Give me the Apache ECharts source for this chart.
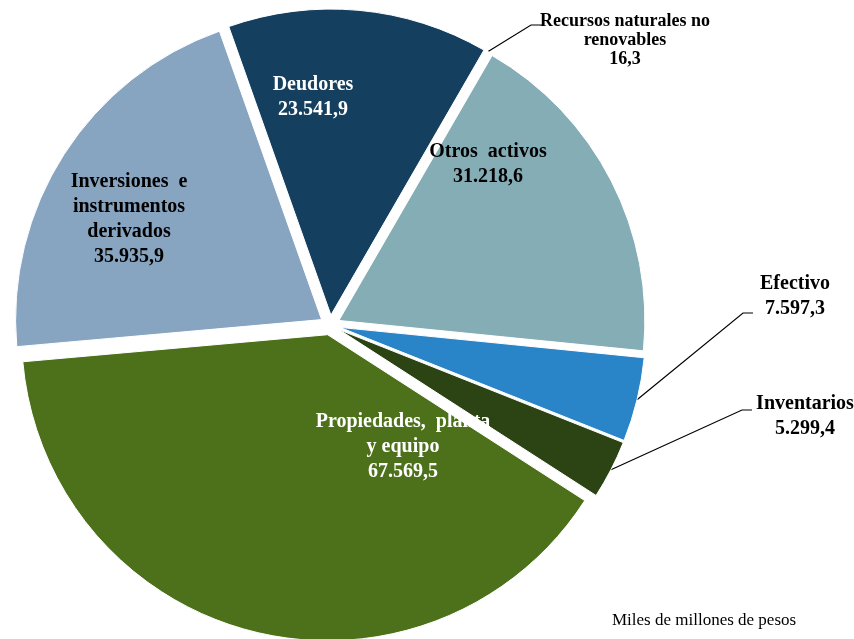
<!DOCTYPE html>
<html>
<head>
<meta charset="utf-8">
<script src="https://cdn.jsdelivr.net/npm/echarts@6/dist/echarts.min.js"></script>
<style>html,body{margin:0;padding:0;background:#fff}#c{width:854px;height:639px}</style>
</head>
<body>
<div id="c"></div>
<script>
// Data (miles de millones de pesos)
const categories = ["Deudores", "Recursos naturales no renovables", "Otros activos", "Efectivo", "Inventarios", "Propiedades, planta y equipo", "Inversiones e instrumentos derivados"];
const values = [23541.9, 16.3, 31218.6, 7597.3, 5299.4, 67569.5, 35935.9];
const labelTexts = [
  "Deudores\n23.541,9",
  "Recursos naturales no\nrenovables\n16,3",
  "Otros  activos\n31.218,6",
  "Efectivo\n7.597,3",
  "Inventarios\n5.299,4",
  "Propiedades,  planta\ny equipo\n67.569,5",
  "Inversiones  e\ninstrumentos\nderivados\n35.935,9"
];
const colors = ["#143f5f", "#d9d9d9", "#85adb6", "#2a84c8", "#2c4313", "#4d701b", "#87a5c1"];
const unitNote = "Miles de millones de pesos";

// Layout settings (not data)
const baseCenter = [330, 325];
const pieRadius = 306;
const startAngle = 109.5;
const explode = 10;
const labelLayoutMap = {
  0: {x: 313, y: 97, color: "#fff"},
  1: {x: 625, y: 40, color: "#000", outside: true, elbow: [531, 25], end: [542, 25]},
  2: {x: 488, y: 164, color: "#000"},
  3: {x: 795, y: 296, color: "#000", outside: true, elbow: [743, 313], end: [753, 313]},
  4: {x: 805, y: 416, color: "#000", outside: true, elbow: [742, 410], end: [752, 410]},
  5: {x: 403, y: 447, color: "#fff"},
  6: {x: 129, y: 219, color: "#000"}
};

const total = values.reduce((a, b) => a + b, 0);
let cum = 0;
const series = categories.map((name, k) => {
  const mid = (startAngle - 360 * (cum + values[k] / 2) / total) * Math.PI / 180;
  cum += values[k];
  const L = labelLayoutMap[k];
  const center = [baseCenter[0] + explode * Math.cos(mid), baseCenter[1] - explode * Math.sin(mid)];
  return {
    type: 'pie',
    name: name,
    center: center,
    radius: pieRadius,
    startAngle: startAngle,
    clockwise: true,
    avoidLabelOverlap: false,
    silent: true,
    emphasis: {disabled: true},
    labelLayout: function (params) {
      if (params.dataIndex !== k) return {};
      const out = {x: L.x, y: L.y, align: 'center', verticalAlign: 'middle'};
      if (L.outside && params.labelLinePoints) {
        out.labelLinePoints = [params.labelLinePoints[0], L.elbow, L.end];
      }
      return out;
    },
    data: categories.map((n, i) => {
      const vis = i === k;
      return {
        name: n,
        value: values[i],
        itemStyle: vis ? {color: colors[i], borderColor: '#fff', borderWidth: 1} : {color: 'rgba(0,0,0,0)', borderWidth: 0},
        label: vis ? {
          show: true,
          position: L.outside ? 'outside' : 'inside',
          formatter: labelTexts[i],
          color: L.color,
          fontFamily: 'Liberation Serif',
          fontWeight: 'bold',
          align: 'center',
          fontSize: i === 1 ? 18 : 20,
          lineHeight: i === 1 ? 19 : 25
        } : {show: false},
        labelLine: vis && L.outside ? {show: true, length: 20, length2: 10, lineStyle: {color: '#000', width: 1.2}} : {show: false}
      };
    })
  };
});

const chart = echarts.init(document.getElementById('c'), null, {renderer: 'canvas'});
chart.setOption({
  animation: false,
  title: {
    text: unitNote,
    left: 607, top: 607,
    textStyle: {fontFamily: 'Liberation Serif', fontWeight: 'normal', fontSize: 17, color: '#000'}
  },
  series: series
});
</script>
</body>
</html>
